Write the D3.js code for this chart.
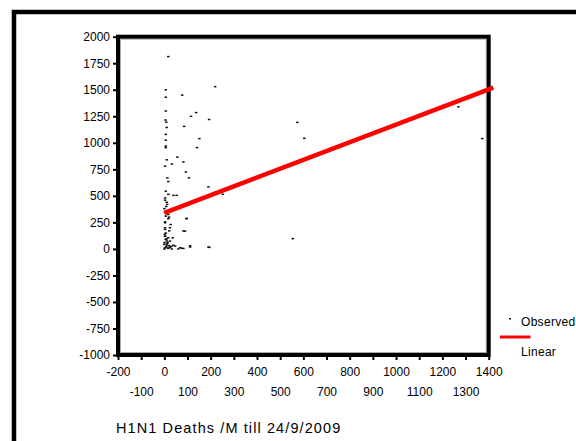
<!DOCTYPE html>
<html>
<head>
<meta charset="utf-8">
<script src="https://cdn.jsdelivr.net/npm/d3@7"></script>
<style>
  html, body { margin: 0; padding: 0; background: #fff; overflow: hidden; }
  svg { display: block; font-family: "Liberation Sans", Arial, sans-serif; }
</style>
</head>
<body>
<svg id="chart" width="576" height="441"></svg>
<script>
// ---- data ----
const obsX = [17, 6, 6, 77, 219, 6, 115, 137, 5, 8, 10, 193, 85, 6, 6, 151, 6, 6, 141,
  10, 56, 3, 32, 82, 93, 106, 13, 17, 190, 6, 17, 39, 53, 252, 3, 10, 8, 3, 6, 17, 96,
  3, 27, 3, 21, 82, 3, 36, 10, 30, 111, 194, 82, 39,
  10, 17, 20, 96, 3, 24, 3, 89, 3, 17, 24, 0, 10, 46, 68, 111, 190, 3, 0, 17, 32, 60, 75,
  0, 5, 8, 12, 15, 20, 25, 2, 6, 10, 14, 0, 3, 12,
  554, 574, 604, 1269, 1372];
const obsY = [1813, 1500, 1430, 1450, 1530, 1300, 1250, 1285, 1215, 1195, 1145, 1220, 1155, 1080, 1025, 1040, 970, 955, 955,
  840, 865, 780, 800, 820, 725, 670, 670, 635, 585, 545, 515, 505, 505, 515, 460, 440, 400, 345, 310, 285, 285,
  255, 230, 200, 170, 170, 120, 105, 75, 25, 30, 15, 5, 35,
  356, 325, 300, 288, 247, 200, 184, 168, 121, 106, 74, 43, 37, 27, 12, 18, 18, 12, 0, 6, 0, 0, 6,
  60, 90, 20, 50, 8, 30, 15, 140, 150, 95, 60, 380, 480, 420,
  97, 1193, 1043, 1340, 1040];
const fitX = [0, 1420];
const fitY = [340, 1520];
const xTicks = [-200, -100, 0, 100, 200, 300, 400, 500, 600, 700, 800, 900, 1000, 1100, 1200, 1300, 1400];
const yTicks = [-1000, -750, -500, -250, 0, 250, 500, 750, 1000, 1250, 1500, 1750, 2000];
const titleText = "H1N1 Deaths /M till 24/9/2009";
const legendLabels = ["Observed", "Linear"];

// ---- layout ----
const svg = d3.select("#chart");
const pL = 118, pR = 488.7, pT = 36.7, pB = 355;
const x = d3.scaleLinear().domain([-200, 1400]).range([pL, pR]);
const y = d3.scaleLinear().domain([-1000, 2000]).range([pB, pT]);
const fmt = d => String(d);
const FONT = "Liberation Sans, Arial, sans-serif";

// outer frame (extends beyond the viewport)
svg.append("rect").attr("x", 14).attr("y", 12).attr("width", 640).attr("height", 500)
  .attr("fill", "none").attr("stroke", "#000").attr("stroke-width", 4.5);

// y axis
const yAxis = d3.axisLeft(y).tickValues(yTicks).tickSize(3).tickPadding(3).tickFormat(fmt);
const gy = svg.append("g").attr("transform", `translate(${pL - 2},0)`).call(yAxis);
gy.select(".domain").remove();
gy.selectAll(".tick line").attr("stroke-width", 2);
gy.selectAll(".tick text").attr("font-size", 12).attr("fill", "#000").attr("font-family", FONT);

// x axis, alternating rows
const xAxis = d3.axisBottom(x).tickValues(xTicks).tickSize(3).tickPadding(0).tickFormat(fmt);
const gx = svg.append("g").attr("transform", `translate(0,${pB + 2})`).call(xAxis);
gx.select(".domain").remove();
gx.selectAll(".tick line").attr("stroke-width", 2);
gx.selectAll(".tick text").attr("font-size", 12).attr("fill", "#000").attr("font-family", FONT)
  .attr("dy", null)
  .attr("y", (d, i) => (i % 2 === 0 ? 18.5 : 38.5));

// plot frame
svg.append("rect").attr("x", pL + 2.5).attr("y", pT + 2.5)
  .attr("width", pR - pL - 5).attr("height", pB - pT - 5)
  .attr("fill", "none").attr("stroke", "#aaa").attr("stroke-width", 1);
svg.append("rect").attr("x", pL).attr("y", pT)
  .attr("width", pR - pL).attr("height", pB - pT)
  .attr("fill", "none").attr("stroke", "#000").attr("stroke-width", 4);

// observed points
svg.append("g").selectAll("rect").data(obsX.map((d, i) => [d, obsY[i]])).join("rect")
  .attr("x", d => x(d[0]) - 1.2).attr("y", d => y(d[1]) - 0.7)
  .attr("width", 2.5).attr("height", 1.5).attr("fill", "#111");

// linear fit
const fitPts = fitX.map((d, i) => [d, fitY[i]]);
svg.append("path").datum(fitPts)
  .attr("d", d3.line().x(d => x(d[0])).y(d => y(d[1])))
  .attr("fill", "none").attr("stroke", "#ff0000").attr("stroke-width", 4.5);

// legend
svg.append("rect").attr("x", 509).attr("y", 318).attr("width", 2).attr("height", 1.5).attr("fill", "#111");
svg.append("text").attr("x", 521).attr("y", 326).attr("font-size", 12).attr("letter-spacing", 0.3)
  .text(legendLabels[0]);
svg.append("line").attr("x1", 500).attr("x2", 530.5).attr("y1", 337).attr("y2", 337)
  .attr("stroke", "#ff0000").attr("stroke-width", 3);
svg.append("text").attr("x", 521).attr("y", 356).attr("font-size", 12).attr("letter-spacing", 0.3)
  .text(legendLabels[1]);

// title
svg.append("text").attr("x", 116).attr("y", 433).attr("font-size", 14.5).attr("letter-spacing", 1.1)
  .text(titleText);
</script>
</body>
</html>
